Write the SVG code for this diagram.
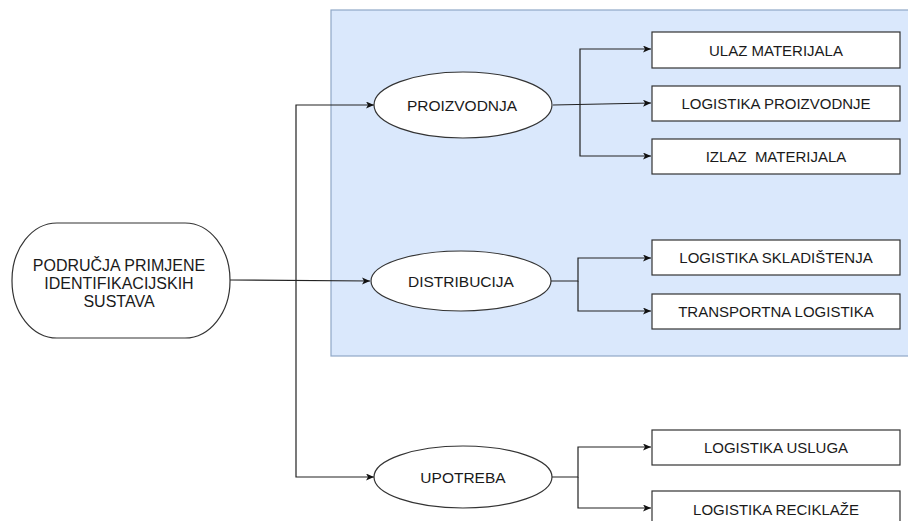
<svg xmlns="http://www.w3.org/2000/svg" width="908" height="521" viewBox="0 0 908 521">
<style>
.node{fill:#ffffff;stroke:#333333;stroke-width:1.2}
.conn{fill:none;stroke:#222222;stroke-width:1.2}
text{font-family:"Liberation Sans",Arial,sans-serif;font-size:15px;fill:#1a1a1a;text-anchor:middle;dominant-baseline:central}
.big{font-size:16px}
.mid{font-size:15.5px}
</style>
<defs>
<marker id="arr" markerWidth="10" markerHeight="8" refX="8" refY="3.5" orient="auto" markerUnits="userSpaceOnUse">
<path d="M0,0 L8,3.5 L0,7 L2,3.5 z" fill="#111111"/>
</marker>
</defs>
<rect id="group" x="331" y="10" width="590" height="346" fill="#dae8fc" stroke="#8fa7c7" stroke-width="1.2"/>
<g id="connectors">
<path class="conn" d="M230,280 L370,281" marker-end="url(#arr)"/>
<path class="conn" d="M296,280 L296,105 L374,105" marker-end="url(#arr)"/>
<path class="conn" d="M296,280 L296,477 L374,477" marker-end="url(#arr)"/>
<path class="conn" d="M553,105 L651,103" marker-end="url(#arr)"/>
<path class="conn" d="M580,104 L580,49 L651,49" marker-end="url(#arr)"/>
<path class="conn" d="M580,104 L580,156 L651,156" marker-end="url(#arr)"/>
<path class="conn" d="M551,281 L578,281 L578,258 L651,258" marker-end="url(#arr)"/>
<path class="conn" d="M578,281 L578,311 L651,311" marker-end="url(#arr)"/>
<path class="conn" d="M552,477 L578,477 L578,447 L651,447" marker-end="url(#arr)"/>
<path class="conn" d="M578,477 L578,508 L651,508" marker-end="url(#arr)"/>
</g>
<g id="root">
<rect class="node" x="12" y="223" width="218" height="115" rx="45" ry="57"/>
<text class="big" x="119" y="265">PODRUČJA PRIMJENE</text>
<text class="big" x="119" y="283">IDENTIFIKACIJSKIH</text>
<text class="big" x="119" y="301">SUSTAVA</text>
</g>
<g id="proizvodnja">
<ellipse class="node" cx="463" cy="105" rx="89" ry="33"/>
<text class="mid" x="462" y="105">PROIZVODNJA</text>
</g>
<g id="distribucija">
<ellipse class="node" cx="461" cy="281" rx="90" ry="30"/>
<text class="mid" x="461" y="281">DISTRIBUCIJA</text>
</g>
<g id="upotreba">
<ellipse class="node" cx="463" cy="477" rx="89" ry="31"/>
<text class="mid" x="463" y="477">UPOTREBA</text>
</g>
<g id="ulaz">
<rect class="node" x="652" y="32" width="248" height="36"/>
<text x="776" y="50">ULAZ MATERIJALA</text>
</g>
<g id="logproizvodnje">
<rect class="node" x="652" y="86" width="248" height="35"/>
<text x="776" y="103.5">LOGISTIKA PROIZVODNJE</text>
</g>
<g id="izlaz">
<rect class="node" x="652" y="139" width="248" height="35"/>
<text x="776" y="156.5" xml:space="preserve">IZLAZ  MATERIJALA</text>
</g>
<g id="skladistenje">
<rect class="node" x="652" y="240" width="248" height="35"/>
<text x="776" y="257.5">LOGISTIKA SKLADIŠTENJA</text>
</g>
<g id="transport">
<rect class="node" x="652" y="294" width="248" height="35"/>
<text x="776" y="311">TRANSPORTNA LOGISTIKA</text>
</g>
<g id="usluge">
<rect class="node" x="652" y="430" width="248" height="35"/>
<text x="776" y="447">LOGISTIKA USLUGA</text>
</g>
<g id="reciklaza">
<rect class="node" x="652" y="491" width="248" height="35"/>
<text x="776" y="509">LOGISTIKA RECIKLAŽE</text>
</g>
</svg>
